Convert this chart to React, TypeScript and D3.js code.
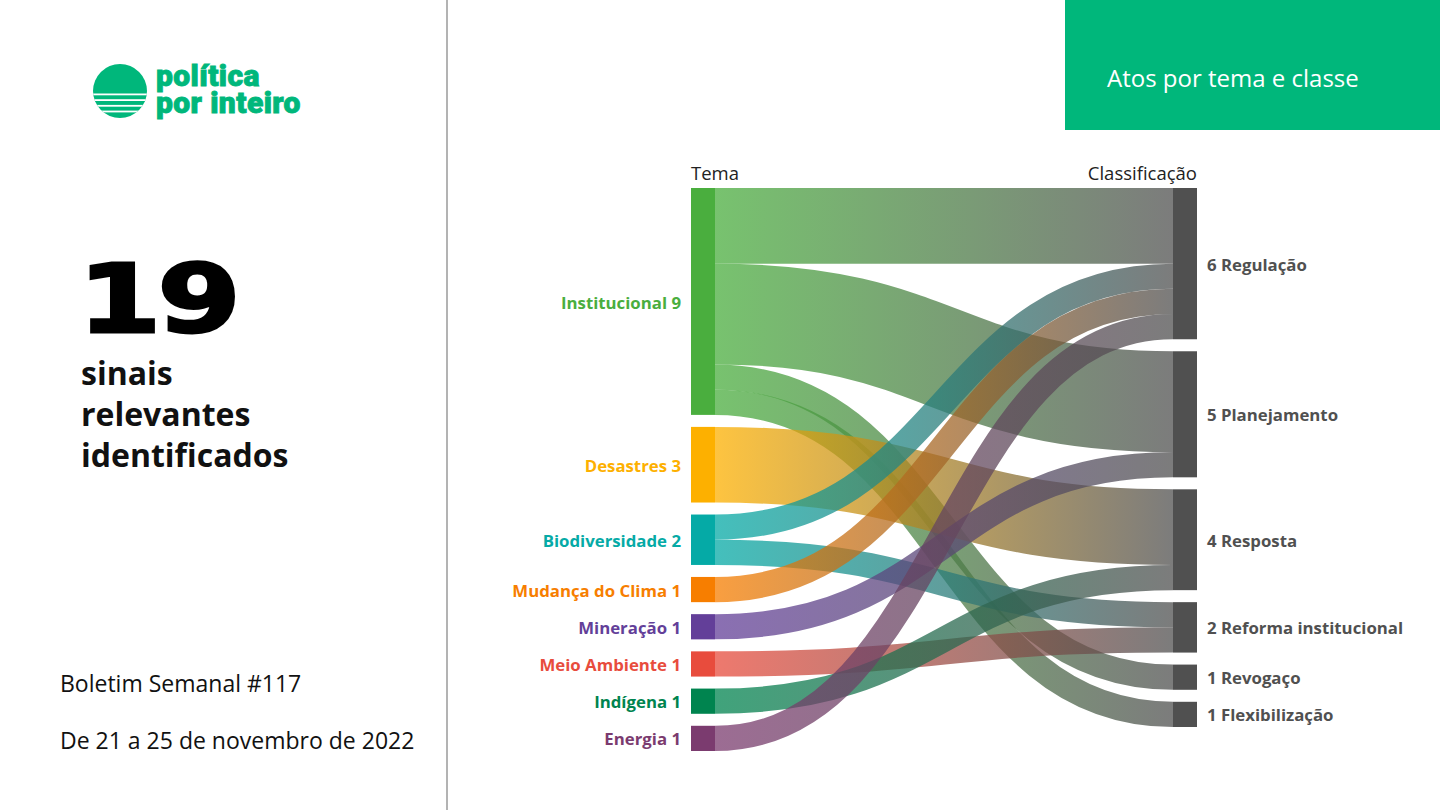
import React from "react";
import * as d3 from "d3";

const themes = ["Institucional", "Desastres", "Biodiversidade", "Mudança do Clima", "Mineração", "Meio Ambiente", "Indígena", "Energia"];
const themeColors = ["#4aae3e", "#fdb000", "#05aaa6", "#f77e00", "#633f99", "#e84c3d", "#00844f", "#7b3b6f"];
const classes = ["Regulação", "Planejamento", "Resposta", "Reforma institucional", "Revogaço", "Flexibilização"];
const flowSource = ["Institucional", "Institucional", "Institucional", "Institucional", "Desastres", "Biodiversidade", "Biodiversidade", "Mudança do Clima", "Mineração", "Meio Ambiente", "Indígena", "Energia"];
const flowTarget = ["Regulação", "Planejamento", "Revogaço", "Flexibilização", "Resposta", "Regulação", "Reforma institucional", "Regulação", "Planejamento", "Reforma institucional", "Resposta", "Regulação"];
const flowValue = [3, 4, 1, 1, 3, 1, 1, 1, 1, 1, 1, 1];

const GREEN = "#00b77b";
const TARGET_COLOR = "#505050";

type N = { name: string; col: number; value: number; y0: number; y1: number; color: string; outOff: number; inOff: number };

function layout() {
  const top = 188;
  const pad = 12;
  const total = d3.sum(flowValue);
  const ky = d3.scaleLinear().domain([0, total]).range([0, 479]);
  const xCol = d3.scaleOrdinal<number, number>().domain([0, 1]).range([691, 1173]);
  const nodeW = 24;
  const nodes: Record<string, N> = {};
  const build = (names: string[], col: number, key: "s" | "t") => {
    let y = top;
    names.forEach((name, i) => {
      const v = d3.sum(flowValue.filter((_, k) => (key === "s" ? flowSource[k] : flowTarget[k]) === name));
      const h = ky(v);
      nodes[name] = { name, col, value: v, y0: y, y1: y + h, color: col === 0 ? themeColors[i] : TARGET_COLOR, outOff: 0, inOff: 0 };
      y += h + pad;
    });
  };
  build(themes, 0, "s");
  build(classes, 1, "t");
  const links = flowValue.map((v, k) => ({ s: nodes[flowSource[k]], t: nodes[flowTarget[k]], v, k, sy: 0, ty: 0, w: ky(v) }));
  themes.forEach((name) => {
    const n = nodes[name];
    links.filter((l) => l.s === n).sort((a, b) => a.t.y0 - b.t.y0).forEach((l) => {
      l.sy = n.y0 + n.outOff + l.w / 2;
      n.outOff += l.w;
    });
  });
  classes.forEach((name) => {
    const n = nodes[name];
    links.filter((l) => l.t === n).sort((a, b) => a.s.y0 - b.s.y0).forEach((l) => {
      l.ty = n.y0 + n.inOff + l.w / 2;
      n.inOff += l.w;
    });
  });
  return { nodes, links, xCol, nodeW };
}

function Logo() {
  const cx = 120, cy = 91, r = 27;
  const gaps = [93.5, 99.2, 104.9, 110.6];
  return (
    <g>
      <defs>
        <clipPath id="logoClip">
          <circle cx={cx} cy={cy} r={r} />
        </clipPath>
      </defs>
      <g clipPath="url(#logoClip)">
        <rect x={cx - r} y={cy - r} width={2 * r} height={2 * r} fill={GREEN} />
        {gaps.map((g, i) => (
          <rect key={i} x={cx - r} y={g} width={2 * r} height={1.8} fill="#fff" />
        ))}
      </g>
      <text fill={GREEN} fontFamily="Roboto" fontWeight={900} fontSize={30} letterSpacing={0.4} stroke={GREEN} strokeWidth={0.9}>
        <tspan x={156} y={86}>política</tspan>
        <tspan x={156} y={113}>por inteiro</tspan>
      </text>
    </g>
  );
}

export default function App() {
  const { nodes, links, xCol, nodeW } = layout();
  const linkGen = d3.linkHorizontal<any, [number, number]>().source((d: any) => d[0]).target((d: any) => d[1]);
  const lx0 = xCol(0) + nodeW;
  const lx1 = xCol(1);
  const labelFont = "'Open Sans', sans-serif";
  return (
    <svg width={1440} height={810} style={{ position: "fixed", left: 0, top: 0, background: "#fff" }}>
      <rect width={1440} height={810} fill="#fff" />
      <Logo />
      <text x={78} y={332} fontFamily="DejaVu Sans" fontWeight={700} fontSize={95} fill="#000" stroke="#000" strokeWidth={3} transform="translate(78,0) scale(1.26,1) translate(-78,0)" letterSpacing={-3}>19</text>
      {["sinais", "relevantes", "identificados"].map((t, i) => (
        <text key={t} x={81} y={385 + i * 41} fontFamily="'Open Sans', sans-serif" fontWeight={700} fontSize={32} fill="#111">{t}</text>
      ))}
      <text x={60} y={692} fontFamily="'Open Sans', sans-serif" fontSize={23} fill="#111">Boletim Semanal #117</text>
      <text x={60} y={749} fontFamily="'Open Sans', sans-serif" fontSize={23} fill="#111">De 21 a 25 de novembro de 2022</text>
      <line x1={447} x2={447} y1={0} y2={810} stroke="#9a9a9a" strokeWidth={1.5} />
      <rect x={1065} y={0} width={375} height={130} fill={GREEN} />
      <text x={1107} y={87} fontFamily="'Open Sans', sans-serif" fontSize={24} fill="#fff">Atos por tema e classe</text>

      <text x={xCol(0)} y={180} fontFamily={labelFont} fontSize={18.5} fill="#222">Tema</text>
      <text x={xCol(1) + nodeW} y={180} fontFamily={labelFont} fontSize={18.5} fill="#222" textAnchor="end">Classificação</text>

      <defs>
        {links.map((l) => (
          <linearGradient key={l.k} id={`lg${l.k}`} gradientUnits="userSpaceOnUse" x1={lx0} x2={lx1} y1={0} y2={0}>
            <stop offset="0%" stopColor={l.s.color} />
            <stop offset="100%" stopColor={TARGET_COLOR} />
          </linearGradient>
        ))}
      </defs>
      <g fill="none" strokeOpacity={0.75}>
        {links.map((l) => (
          <path key={l.k} d={linkGen([[lx0, l.sy], [lx1, l.ty]] as any) || ""} stroke={`url(#lg${l.k})`} strokeWidth={l.w} />
        ))}
      </g>
      {Object.values(nodes).map((n) => (
        <rect key={n.name} x={xCol(n.col)} y={n.y0} width={nodeW} height={n.y1 - n.y0} fill={n.color} />
      ))}
      {themes.map((name) => {
        const n = nodes[name];
        return (
          <text key={name} x={xCol(0) - 10} y={(n.y0 + n.y1) / 2} dy="0.42em" textAnchor="end" fontFamily={labelFont} fontWeight={700} fontSize={16.8} fill={n.color}>
            {`${name} ${n.value}`}
          </text>
        );
      })}
      {classes.map((name) => {
        const n = nodes[name];
        return (
          <text key={name} x={xCol(1) + nodeW + 10} y={(n.y0 + n.y1) / 2} dy="0.42em" fontFamily={labelFont} fontWeight={700} fontSize={16.8} fill="#505050">
            {`${n.value} ${name}`}
          </text>
        );
      })}
    </svg>
  );
}
